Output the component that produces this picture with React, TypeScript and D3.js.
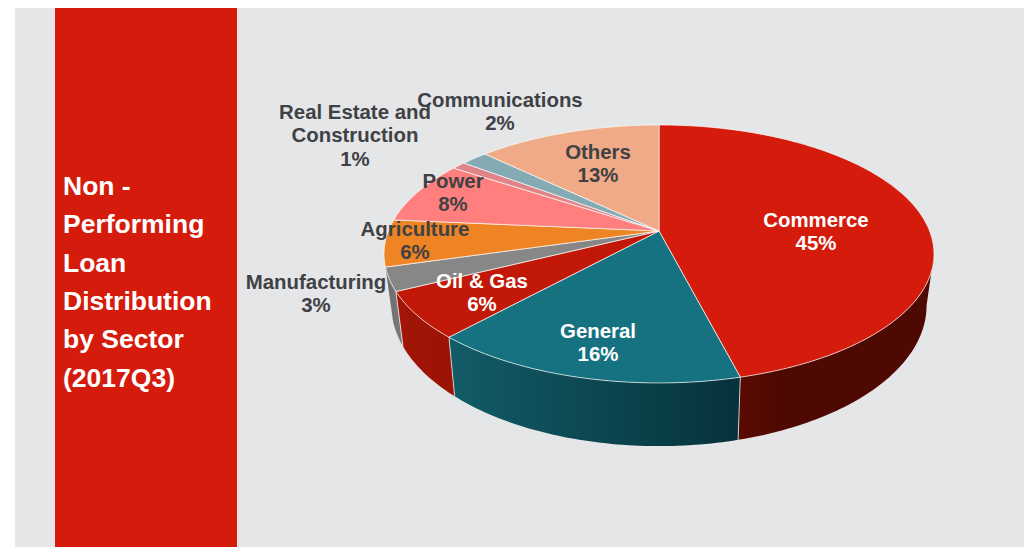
import React, { useMemo } from "react";
import * as d3 from "d3";

// Loan shares per sector, clockwise from twelve o'clock
const sectors = ["Commerce", "General", "Oil & Gas", "Manufacturing", "Agriculture", "Power", "Real Estate and Construction", "Communications", "Others"];
const shares = [45.49, 15.6, 5.8, 2.9, 5.8, 7.8, 0.95, 1.85, 12.7];
const titleLines = ["Non -", "Performing", "Loan", "Distribution", "by Sector", "(2017Q3)"];

const topColors = ["#d51b0c", "#167280", "#c21807", "#878787", "#ee8423", "#ff7f7f", "#e08488", "#84abb3", "#f0aa87"];
const wallFrom = ["#5a0a02", "#125c68", "#a31507", "#6b6b6b", "#b06018", "#c05f5f", "#a86366", "#638086", "#b48065"];
const wallTo = ["#4e0902", "#06323a", "#9a1305", "#7c7c7c", "#b06018", "#c05f5f", "#a86366", "#638086", "#b48065"];

// Label layout: centre x, first-line centre y, text colour, wrapped name
const labelLayout = [
  { x: 816, y: 220, fill: "#ffffff", lines: ["Commerce"] },
  { x: 598, y: 331, fill: "#ffffff", lines: ["General"] },
  { x: 482, y: 281, fill: "#ffffff", lines: ["Oil & Gas"] },
  { x: 316, y: 282, fill: "#404144", lines: ["Manufacturing"] },
  { x: 415, y: 229, fill: "#404144", lines: ["Agriculture"] },
  { x: 453, y: 181, fill: "#404144", lines: ["Power"] },
  { x: 355, y: 112, fill: "#404144", lines: ["Real Estate and", "Construction"] },
  { x: 500, y: 100, fill: "#404144", lines: ["Communications"] },
  { x: 598, y: 152, fill: "#404144", lines: ["Others"] },
];

// Perspective disc: the hub sits above the centre of the projected ellipse
const hub = { x: 659, y: 231 };
const tilt = 0.178;
const spanX = 270.6;
const spanY = 124.9;
const baseScaleX = 0.973;
const baseScaleY = 1.09;
const baseDrop = 49.5;

// angle runs clockwise from the back of the disc
const rimTop = (a: number): [number, number] => {
  const u = Math.sin(a);
  const v = -Math.cos(a);
  const w = 1 - tilt * v;
  return [hub.x + (spanX * u) / w, hub.y + (spanY * v) / w];
};
const rimBase = (a: number): [number, number] => {
  const [x, y] = rimTop(a);
  return [hub.x + (x - hub.x) * baseScaleX, hub.y + (y - hub.y) * baseScaleY + baseDrop];
};

const sweep = (a0: number, a1: number) => {
  const n = Math.max(2, Math.ceil(Math.abs(a1 - a0) / (Math.PI / 180)));
  return d3.range(n + 1).map((i) => a0 + ((a1 - a0) * i) / n);
};

// The side wall shows only between the disc's left and right silhouette points
const tangent = Math.asin(tilt);
const wallStart = Math.PI / 2 + tangent;
const wallEnd = (3 * Math.PI) / 2 - tangent;

export default function App() {
  const line = useMemo(() => d3.line<[number, number]>(), []);
  const arcs = useMemo(
    () => d3.pie<number>().sort(null).value((d) => d)(shares),
    []
  );

  const walls = arcs
    .map((arc, i) => ({ arc, i }))
    .filter(({ arc }) => arc.endAngle > wallStart && (arc.startAngle + arc.endAngle) / 2 < wallEnd)
    .map(({ arc, i }) => {
      const a0 = Math.max(arc.startAngle, wallStart);
      const a1 = Math.min(arc.endAngle, wallEnd);
      const angles = sweep(a0, a1);
      const pts = [...angles.map(rimTop), ...angles.slice().reverse().map(rimBase)];
      return { i, a1, d: line(pts) + "Z" };
    });

  return (
    <svg
      width={1024}
      height={547}
      viewBox="0 0 1024 547"
      style={{ position: "absolute", left: 0, top: 0, display: "block", background: "#ffffff" }}
      fontFamily="'Liberation Sans', Arial, sans-serif"
      fontWeight={700}
    >
      <defs>
        {walls.map(({ i }) => (
          <linearGradient key={i} id={`wall-${i}`} x1="0" y1="0" x2="1" y2="0">
            <stop offset="0" stopColor={wallFrom[i]} />
            <stop offset={i === 0 ? 0.2 : 1} stopColor={wallTo[i]} />
          </linearGradient>
        ))}
      </defs>

      <rect x={15} y={8} width={1009} height={539} fill="#e5e6e8" />
      <rect x={55} y={8} width={182} height={539} fill="#d51b0c" />

      <g fill="#ffffff" fontSize={26.5}>
        {titleLines.map((t, i) => (
          <text key={t} x={63} y={195 + i * 38.3}>{t}</text>
        ))}
      </g>

      <g>
        {walls.map(({ i, d }) => (
          <path key={i} d={d} fill={`url(#wall-${i})`} />
        ))}
        {walls.slice(0, -1).map(({ i, a1 }) => (
          <path
            key={i}
            d={line([rimTop(a1), rimBase(a1)]) as string}
            stroke="#ffffff"
            strokeOpacity={0.7}
            strokeWidth={1}
            fill="none"
          />
        ))}
      </g>

      <g>
        {arcs.map((arc, i) => {
          const pts = [[hub.x, hub.y] as [number, number], ...sweep(arc.startAngle, arc.endAngle).map(rimTop)];
          return (
            <path
              key={i}
              d={line(pts) + "Z"}
              fill={topColors[i]}
              stroke="#ffffff"
              strokeOpacity={0.75}
              strokeWidth={0.9}
              strokeLinejoin="round"
            />
          );
        })}
      </g>

      <g fontSize={20.4} textAnchor="middle" dominantBaseline="central">
        {labelLayout.map((l, i) => (
          <g key={sectors[i]} fill={l.fill}>
            {[...l.lines, `${Math.round(shares[i])}%`].map((t, j) => (
              <text key={j} x={l.x} y={l.y + j * 23.4}>{t}</text>
            ))}
          </g>
        ))}
      </g>
    </svg>
  );
}
